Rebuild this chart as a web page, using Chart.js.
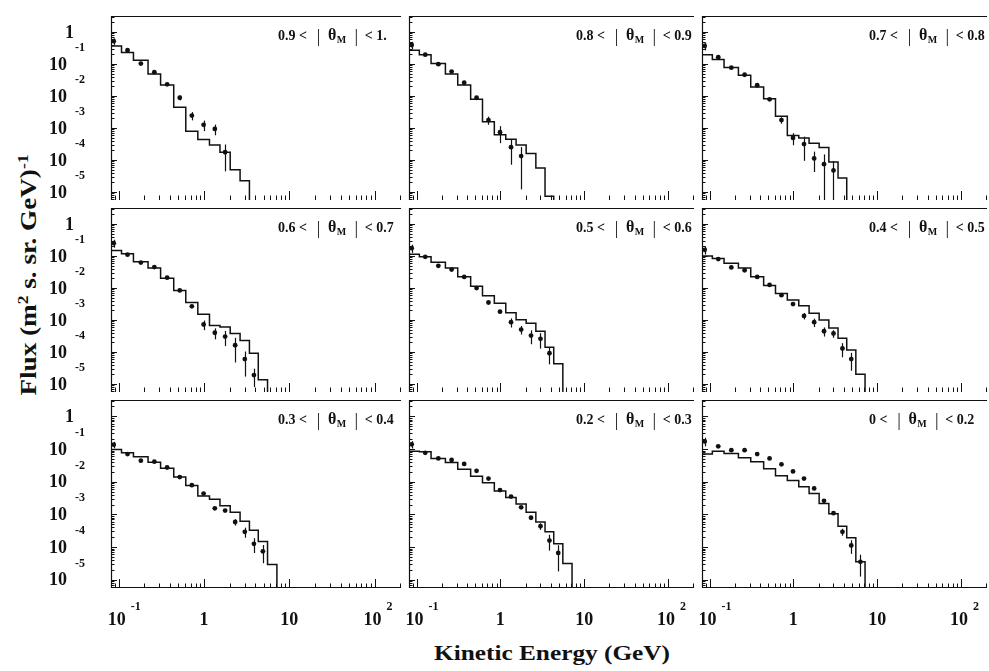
<!DOCTYPE html>
<html>
<head>
<meta charset="utf-8">
<title>Flux vs kinetic energy</title>
<script src="https://cdn.jsdelivr.net/npm/chart.js@4.4.1/dist/chart.umd.min.js"></script>
<style>
  html, body { margin: 0; padding: 0; background: #fff; }
  body { width: 989px; height: 671px; position: relative; overflow: hidden; }
  canvas { position: absolute; }
  .axis-title {
    position: absolute;
    font-family: "Liberation Serif", "Times New Roman", serif;
    font-weight: bold;
    color: #111;
    white-space: nowrap;
    line-height: 1;
  }
  .axis-title sup { font-size: 0.65em; }
  #xtitle { left: 552px; top: 653px; font-size: 22px; transform: translate(-50%, -50%) scaleX(1.15); }
  #ytitle { left: 28px; top: 275px; font-size: 23px; transform: translate(-50%, -50%) rotate(-90deg) scaleX(1.18); }
</style>
</head>
<body>
<div id="xtitle" class="axis-title">Kinetic Energy (GeV)</div>
<div id="ytitle" class="axis-title">Flux (m<sup>2</sup> s. sr. GeV)<sup>-1</sup></div>
<script>
const INK = '#111';
const SERIF = '"Liberation Serif", "Times New Roman", serif';

// energy bins (GeV), same for every panel
const binEdges = [0.071, 0.108, 0.149, 0.221, 0.31, 0.442, 0.612, 0.847, 1.16, 1.54, 2.03, 2.65, 3.41, 4.33, 5.56, 7.16];
const binCentres = [0.0875, 0.127, 0.182, 0.262, 0.37, 0.52, 0.721, 0.99, 1.34, 1.77, 2.32, 3.01, 3.85, 4.9, 6.3];

const xTickValues = [0.1, 1, 10, 100];
const xTickLabels = [['10', '-1'], ['1', ''], ['10', ''], ['10', '2']];
const yTickValues = [1, 0.1, 0.01, 0.001, 0.0001, 0.00001];
const yTickLabels = [['1', ''], ['10', '-1'], ['10', '-2'], ['10', '-3'], ['10', '-4'], ['10', '-5']];

// |theta_M| ranges, in panel order
const thetaBins = [['0.9', '1.'], ['0.8', '0.9'], ['0.7', '0.8'],
                   ['0.6', '0.7'], ['0.5', '0.6'], ['0.4', '0.5'],
                   ['0.3', '0.4'], ['0.2', '0.3'], ['0', '0.2']];

// simulation histogram (one value per bin), measured flux and its error
const sim1 = [0.366, 0.23, 0.13, 0.0482, 0.0221, 0.00443, 7.94e-4, 4.37e-4, 2.95e-4, 1.74e-4, 4.9e-5, 2.24e-5];
const dat1 = [0.515, 0.27, 0.103, 0.0553, 0.0232, 0.00881, 0.00243, 0.00125, 0.00093, 1.74e-4];
const err1 = [0.12, 0.02, 0.006, 0.003, 0.0015, 0.0015, 0.0007, 0.00045, 0.00034, 1.3e-4];

const sim2 = [0.27, 0.196, 0.103, 0.0482, 0.0221, 0.00785, 0.00157, 6.12e-4, 4.43e-4, 2.95e-4, 1.58e-4, 5.6e-5, 7.4e-6];
const dat2 = [0.392, 0.196, 0.0986, 0.058, 0.0259, 0.00881, 0.00176, 7.36e-4, 2.51e-4, 1.32e-4];
const err2 = [0.1, 0.01, 0.005, 0.003, 0.0015, 0.0006, 0.0005, 4e-4, 1.8e-4, 1.2e-4];

const sim3 = [0.196, 0.139, 0.078, 0.0441, 0.0192, 0.00824, 0.00232, 5.85e-4, 4.88e-4, 3.3e-4, 2.45e-4, 8.7e-5, 2.75e-5];
const dat3 = [0.366, 0.163, 0.0764, 0.046, 0.0216, 0.00785, 0.00176, 4.88e-4, 3.14e-4, 1.12e-4, 7.4e-5, 4.7e-5];
const err3 = [0.1, 0.008, 0.004, 0.002, 0.001, 0.0005, 0.0004, 2e-4, 2.2e-4, 7e-5, 7.5e-5, 4.6e-5];

const sim4 = [0.149, 0.118, 0.0665, 0.042, 0.0202, 0.00841, 0.00351, 0.0015, 6.71e-4, 5.98e-4, 3.78e-4, 2.29e-4, 9.1e-5, 1.35e-5];
const dat4 = [0.252, 0.11, 0.062, 0.045, 0.021, 0.00841, 0.00266, 7.2e-4, 3.98e-4, 3.02e-4, 1.62e-4, 6.0e-5, 1.9e-5];
const err4 = [0.07, 0.005, 0.003, 0.002, 0.001, 0.0005, 0.0002, 2.4e-4, 1.5e-4, 1.5e-4, 1.15e-4, 4.3e-5, 1.1e-5];

const sim5 = [0.113, 0.094, 0.0636, 0.042, 0.0225, 0.0113, 0.00569, 0.00335, 0.00168, 0.00101, 7.87e-4, 4.43e-4, 1.41e-4, 4.27e-5];
const dat5 = [0.175, 0.094, 0.0494, 0.0375, 0.0221, 0.00989, 0.00351, 0.00181, 8.5e-4, 5.0e-4, 3.24e-4, 2.57e-4, 9.1e-5];
const err5 = [0.05, 0.004, 0.002, 0.0015, 0.001, 0.0005, 0.0002, 0.00015, 2.7e-4, 1.5e-4, 1.5e-4, 1.3e-4, 5e-5];

const sim6 = [0.1007, 0.0838, 0.0593, 0.042, 0.0225, 0.0119, 0.0067, 0.00423, 0.00279, 0.00161, 9.93e-4, 5.6e-4, 2.7e-4, 1.15e-4, 2.0e-5];
const dat6 = [0.156, 0.08, 0.044, 0.0358, 0.0221, 0.01245, 0.00596, 0.00314, 0.00134, 8.5e-4, 4.43e-4, 3.78e-4, 1.28e-4, 6.0e-5];
const err6 = [0.045, 0.003, 0.002, 0.0015, 0.001, 0.0005, 0.0003, 0.0002, 3e-4, 2.5e-4, 1.4e-4, 1e-4, 6e-5, 3.4e-5];

const sim7 = [0.0962, 0.0764, 0.0579, 0.0392, 0.0259, 0.0139, 0.00767, 0.00368, 0.00293, 0.00185, 0.00116, 6.12e-4, 3.3e-4, 1.47e-4, 2.95e-5];
const dat7 = [0.1355, 0.0698, 0.044, 0.0411, 0.0272, 0.0139, 0.00785, 0.00432, 0.00153, 0.00131, 5.85e-4, 2.93e-4, 1.26e-4, 7.4e-5];
const err7 = [0.03, 0.003, 0.002, 0.0015, 0.001, 0.0006, 0.0003, 0.0002, 0.0001, 0.0001, 1.3e-4, 1e-4, 6e-5, 4.2e-5];

const sim8 = [0.0859, 0.0818, 0.0516, 0.0384, 0.0242, 0.0146, 0.00923, 0.00519, 0.00327, 0.00207, 0.00116, 5.85e-4, 2.93e-4, 1.26e-4, 3.16e-5];
const dat8 = [0.139, 0.0764, 0.0516, 0.0461, 0.035, 0.0216, 0.01245, 0.00556, 0.00351, 0.00164, 7.9e-4, 4.35e-4, 1.58e-4, 6.6e-5];
const err8 = [0.035, 0.003, 0.002, 0.0015, 0.001, 0.0008, 0.0005, 0.0003, 0.0002, 0.0001, 6e-5, 1e-4, 8e-5, 4.8e-5];

const sim9 = [0.0698, 0.0859, 0.073, 0.0542, 0.0411, 0.0248, 0.0153, 0.01084, 0.007, 0.00432, 0.00217, 0.00104, 4.35e-4, 1.94e-4, 3.55e-5];
const dat9 = [0.171, 0.121, 0.092, 0.092, 0.0698, 0.0516, 0.0341, 0.0206, 0.01245, 0.00625, 0.0026, 0.00109, 2.93e-4, 1.12e-4, 3.55e-5];
const err9 = [0.05, 0.004, 0.003, 0.003, 0.002, 0.0015, 0.001, 0.0006, 0.0004, 0.0002, 0.0001, 6e-5, 7e-5, 5e-5, 2.3e-5];

const panels = [
  { sim: sim1, dat: dat1, err: err1 }, { sim: sim2, dat: dat2, err: err2 }, { sim: sim3, dat: dat3, err: err3 },
  { sim: sim4, dat: dat4, err: err4 }, { sim: sim5, dat: dat5, err: err5 }, { sim: sim6, dat: dat6, err: err6 },
  { sim: sim7, dat: dat7, err: err7 }, { sim: sim8, dat: dat8, err: err8 }, { sim: sim9, dat: dat9, err: err9 }
];

// axis ranges shared by all panels
const X_MIN = 0.0813, X_MAX = 204;
const Y_MIN = 5.6e-6, Y_MAX = 3.16;

// page layout
const colLeft = [111, 405, 698];
const colWidth = [294, 293, 293];
const rowTop = [12, 204, 396];
const ROW_H = 192;
const LEFT_PAD = 111, BOTTOM_PAD = 83;

function histogramPoints(sim) {
  const pts = sim.map((v, i) => ({ x: binEdges[i], y: v }));
  // histogram falls to zero after the last filled bin
  pts.push({ x: binEdges[sim.length], y: 1e-9 });
  return pts;
}

function panelPlugin(k) {
  const col = k % 3, row = Math.floor(k / 3);
  const p = panels[k];
  return {
    id: 'panel' + k,
    afterDatasetsDraw(chart) {
      const { ctx, chartArea: a, scales: { x, y } } = chart;
      ctx.save();
      ctx.beginPath();
      ctx.rect(a.left, a.top, a.right - a.left, a.bottom - a.top);
      ctx.clip();
      ctx.strokeStyle = INK;
      ctx.lineWidth = 1.2;
      p.dat.forEach((v, i) => {
        const px = Math.round(x.getPixelForValue(binCentres[i])) + 0.5;
        const top = y.getPixelForValue(v + p.err[i]);
        const bot = v - p.err[i] > 0 ? y.getPixelForValue(v - p.err[i]) : a.bottom;
        ctx.beginPath();
        ctx.moveTo(px, top);
        ctx.lineTo(px, bot);
        ctx.stroke();
      });
      ctx.restore();
    },
    afterDraw(chart) {
      const { ctx, chartArea: a, scales: { x, y } } = chart;
      ctx.save();
      ctx.strokeStyle = INK;
      ctx.fillStyle = INK;

      // frame: left and top, bottom only on the last row
      ctx.lineWidth = 1.2;
      ctx.beginPath();
      ctx.moveTo(a.left + 0.5, a.bottom);
      ctx.lineTo(a.left + 0.5, a.top + 0.5);
      ctx.lineTo(a.right, a.top + 0.5);
      if (row === 2) {
        ctx.moveTo(a.left, a.bottom - 0.5);
        ctx.lineTo(a.right, a.bottom - 0.5);
      }
      ctx.stroke();

      // inward log ticks on the bottom and left axes
      ctx.lineWidth = 1;
      ctx.beginPath();
      for (let e = -2; e <= 2; e++) {
        for (let m = 1; m <= 9; m++) {
          const v = m * Math.pow(10, e);
          if (v < x.min || v > x.max) continue;
          const px = Math.round(x.getPixelForValue(v)) + 0.5;
          const len = m === 1 ? 9 : 4.5;
          ctx.moveTo(px, a.bottom);
          ctx.lineTo(px, a.bottom - len);
        }
      }
      for (let e = -6; e <= 0; e++) {
        for (let m = 1; m <= 9; m++) {
          const v = m * Math.pow(10, e);
          if (v < y.min || v > y.max) continue;
          const py = Math.round(y.getPixelForValue(v)) + 0.5;
          const len = m === 1 ? 6 : 3.5;
          ctx.moveTo(a.left, py);
          ctx.lineTo(a.left + len, py);
        }
      }
      ctx.stroke();

      // y tick labels on the first column
      if (col === 0) {
        yTickValues.forEach((v, i) => {
          const [base, exp] = yTickLabels[i];
          const py = y.getPixelForValue(v);
          ctx.font = 'bold 18px ' + SERIF;
          ctx.textAlign = 'right';
          ctx.textBaseline = 'middle';
          if (!exp) {
            ctx.fillText(base, a.left - 37, py + 1);
          } else {
            ctx.fillText(base, a.left - 44, py + 1);
            ctx.font = 'bold 12px ' + SERIF;
            ctx.textAlign = 'left';
            ctx.fillText(exp, a.left - 36, py - 16);
          }
        });
      }

      // x tick labels on the last row
      if (row === 2) {
        xTickValues.forEach((v, i) => {
          const [base, exp] = xTickLabels[i];
          const px = x.getPixelForValue(v);
          ctx.font = 'bold 18px ' + SERIF;
          ctx.textAlign = 'center';
          ctx.textBaseline = 'middle';
          const cx = exp ? px - 2 : px;
          ctx.fillText(base, cx, a.bottom + 32);
          if (exp) {
            const w = ctx.measureText(base).width;
            ctx.font = 'bold 12px ' + SERIF;
            ctx.textAlign = 'left';
            ctx.fillText(exp, cx + w / 2 + 5, a.bottom + 19);
          }
        });
      }

      // panel label  "lo < | θM | < hi", laid out left to right
      const [lo, hi] = thetaBins[k];
      const base = a.top + 24;
      let cx = a.left + 167;
      ctx.textBaseline = 'alphabetic';
      ctx.textAlign = 'left';
      ctx.font = 'bold 14px ' + SERIF;
      ctx.fillText(lo + ' <', cx, base);
      cx += ctx.measureText(lo + ' <').width + 11.5;
      ctx.font = '18px ' + SERIF;
      ctx.textAlign = 'center';
      ctx.fillText('|', cx, base + 2);
      cx += 9.5;
      ctx.textAlign = 'left';
      ctx.font = 'bold 16px ' + SERIF;
      ctx.fillText('\u03b8', cx, base);
      cx += ctx.measureText('\u03b8').width + 0.5;
      ctx.font = 'bold 10px ' + SERIF;
      ctx.fillText('M', cx, base + 3);
      cx += ctx.measureText('M').width + 10;
      ctx.font = '18px ' + SERIF;
      ctx.textAlign = 'center';
      ctx.fillText('|', cx, base + 2);
      cx += 8.5;
      ctx.textAlign = 'left';
      ctx.font = 'bold 14px ' + SERIF;
      ctx.fillText('< ' + hi, cx, base);
      ctx.restore();
    }
  };
}

panels.forEach((p, k) => {
  const col = k % 3, row = Math.floor(k / 3);
  const padL = col === 0 ? LEFT_PAD : 0;
  const padB = row === 2 ? BOTTOM_PAD : 0;
  const cv = document.createElement('canvas');
  cv.width = colWidth[col] + padL;
  cv.height = ROW_H + padB;
  cv.style.left = (colLeft[col] - padL) + 'px';
  cv.style.top = rowTop[row] + 'px';
  document.body.appendChild(cv);

  new Chart(cv.getContext('2d'), {
    type: 'line',
    data: {
      datasets: [
        {
          type: 'line',
          data: histogramPoints(p.sim),
          stepped: true,
          borderColor: INK,
          borderWidth: 1.5,
          pointRadius: 0,
          fill: false
        },
        {
          type: 'scatter',
          data: p.dat.map((v, i) => ({ x: binCentres[i], y: v })),
          backgroundColor: INK,
          borderWidth: 0,
          pointRadius: 2.4
        }
      ]
    },
    options: {
      responsive: false,
      animation: false,
      devicePixelRatio: 1,
      events: [],
      layout: { padding: { left: padL, right: 0, top: 0, bottom: padB } },
      plugins: { legend: { display: false }, tooltip: { enabled: false } },
      scales: {
        x: { type: 'logarithmic', min: X_MIN, max: X_MAX, display: false },
        y: { type: 'logarithmic', min: Y_MIN, max: Y_MAX, display: false }
      }
    },
    plugins: [panelPlugin(k)]
  });
});
</script>
</body>
</html>
